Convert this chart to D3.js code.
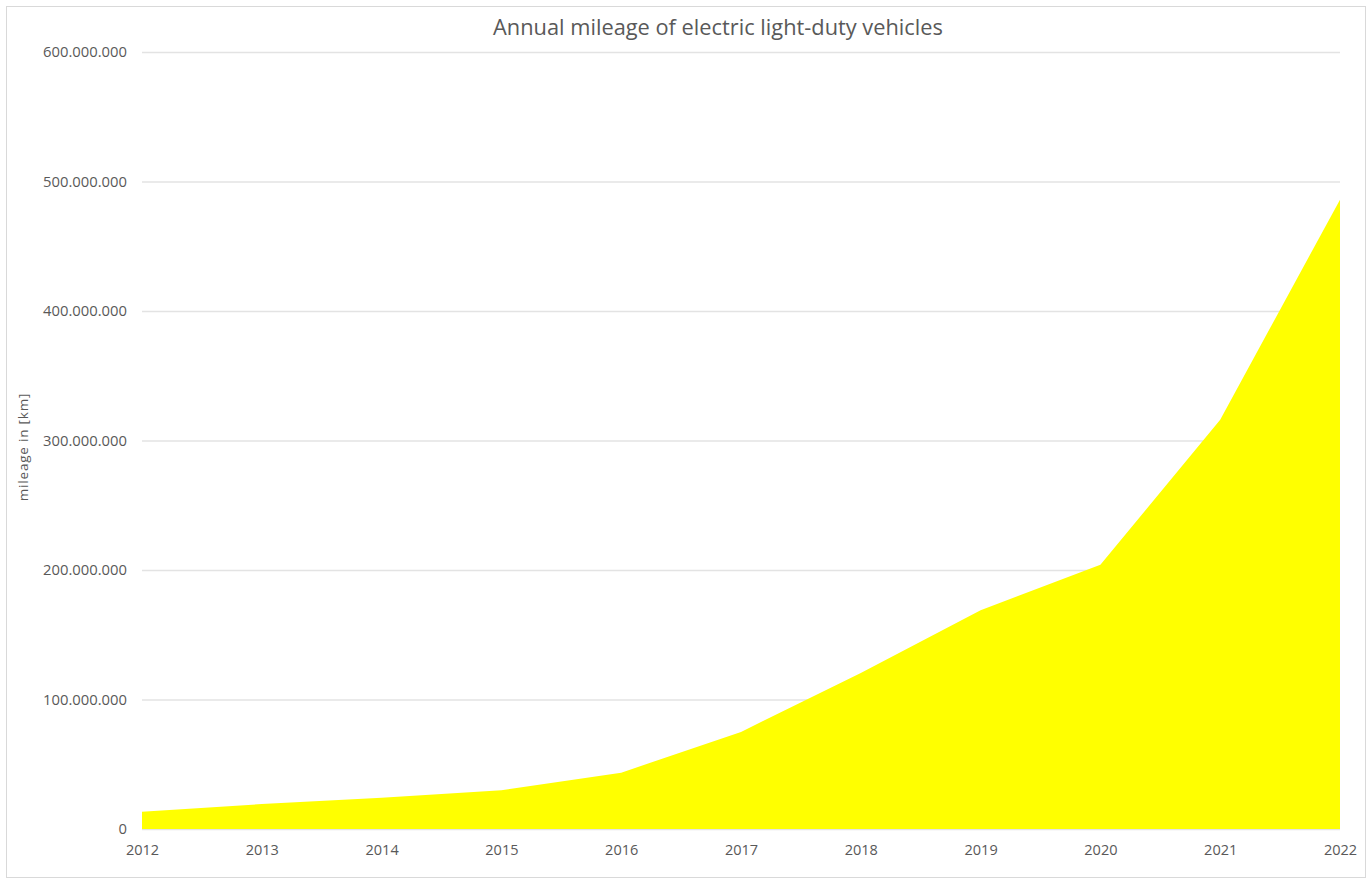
<!DOCTYPE html>
<html>
<head>
<meta charset="utf-8">
<script src="https://cdn.jsdelivr.net/npm/d3@7"></script>
<style>
  body { margin: 0; background: #fff; }
  text { font-family: "Open Sans", "Liberation Sans", sans-serif; fill: #595959; }
</style>
</head>
<body>
<div id="chart"></div>
<script>
const years = ["2012", "2013", "2014", "2015", "2016", "2017", "2018", "2019", "2020", "2021", "2022"];
const mileage = [13400000, 19300000, 24200000, 30000000, 43500000, 75000000, 120500000, 169000000, 204000000, 316000000, 486000000];
const yTicks = [0, 100000000, 200000000, 300000000, 400000000, 500000000, 600000000];

const W = 1370, H = 881;
const margin = { top: 52, right: 30, bottom: 52, left: 142 };
const width = 1340 - margin.left;
const height = 829 - margin.top;

const svg = d3.select("#chart").append("svg")
    .attr("width", W)
    .attr("height", H);

// chart frame
svg.append("rect")
    .attr("x", 6.5).attr("y", 6.5)
    .attr("width", 1359).attr("height", 871)
    .attr("fill", "#fff")
    .attr("stroke", "#d9d9d9");

const g = svg.append("g")
    .attr("transform", `translate(${margin.left},${margin.top})`);

const x = d3.scalePoint()
    .domain(years)
    .range([0, width]);

const y = d3.scaleLinear()
    .domain([0, 600000000])
    .range([height, 0]);

const fmt = d => d3.format(",")(d).replace(/,/g, ".");

// gridlines
g.append("g")
    .selectAll("line")
    .data(yTicks)
    .enter()
    .append("line")
    .attr("x1", 0)
    .attr("x2", width)
    .attr("y1", d => y(d) + 0.5)
    .attr("y2", d => y(d) + 0.5)
    .attr("stroke", "#e3e3e3")
    .attr("stroke-width", 1.3);

// Y axis labels
const yAxis = g.append("g")
    .call(d3.axisLeft(y).tickValues(yTicks).tickFormat(fmt).tickSize(0).tickPadding(15));
yAxis.select(".domain").remove();
yAxis.selectAll("text")
    .style("font-size", "14.8px")
    .attr("fill", "#595959");

// area
const area = d3.area()
    .x((d, i) => x(years[i]))
    .y0(height)
    .y1(d => y(d));

g.append("path")
    .datum(mileage)
    .attr("fill", "#ffff00")
    .attr("d", area);

// X axis labels
const xAxis = g.append("g")
    .attr("transform", `translate(0,${height})`)
    .call(d3.axisBottom(x).tickSize(0).tickPadding(16));
xAxis.select(".domain").remove();
xAxis.selectAll("text")
    .style("font-size", "14.5px")
    .attr("fill", "#595959");

// title
svg.append("text")
    .attr("x", 718)
    .attr("y", 35)
    .attr("text-anchor", "middle")
    .style("font-size", "21.8px")
    .text("Annual mileage of electric light-duty vehicles");

// y axis title
svg.append("text")
    .attr("transform", "translate(28,447) rotate(-90)")
    .attr("text-anchor", "middle")
    .style("font-size", "13.5px")
    .style("letter-spacing", "0.8px")
    .text("mileage in [km]");
</script>
</body>
</html>
